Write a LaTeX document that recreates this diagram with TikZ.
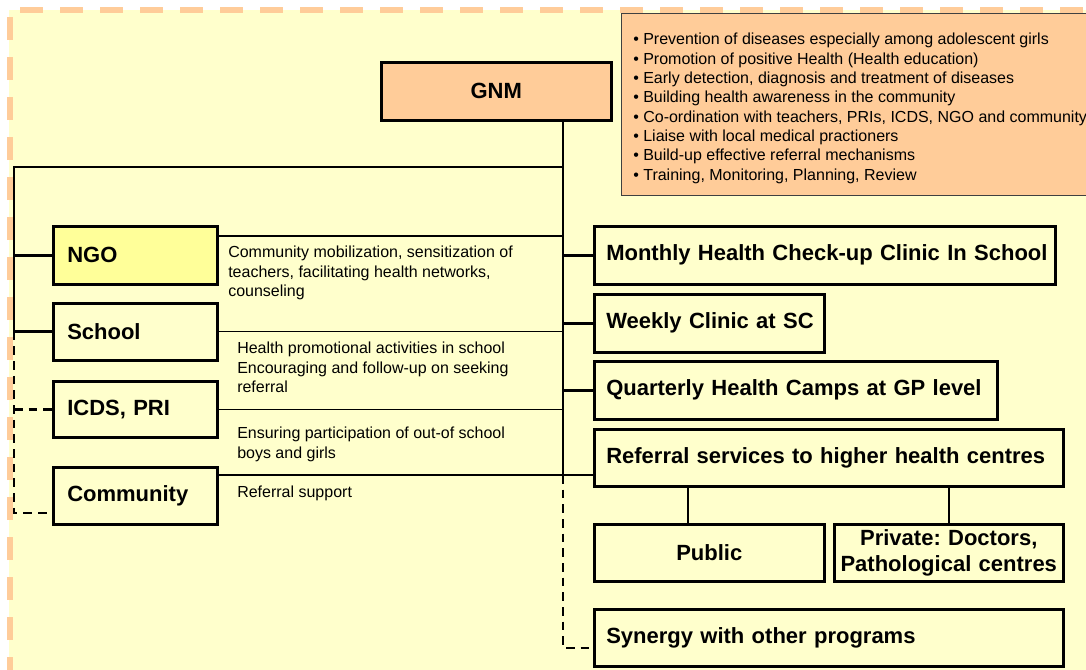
\documentclass[tikz,border=0pt]{standalone}
\usepackage{fontspec}
\setmainfont{Liberation Sans}
\frenchspacing
\definecolor{bgy}{HTML}{FFFFCC}
\definecolor{peach}{HTML}{FFCC99}
\definecolor{ngoy}{HTML}{FFFF99}
\definecolor{dashor}{HTML}{FFCC99}
\begin{document}
\begin{tikzpicture}[x=0.75pt,y=-0.75pt,
  thickline/.style={line width=1.9pt},
  thinline/.style={line width=0.9pt},
  dashline/.style={line width=1.9pt, dash pattern=on 6.5pt off 4.5pt},
  boxbase/.style={draw=black, line width=1.9pt, fill=bgy, inner ysep=0pt, anchor=north west,
    font=\fontsize{16.5}{19.5}\selectfont\bfseries},
  lbox/.style={boxbase, text width=102pt, inner xsep=10.5pt, align=left},
  rbox/.style={boxbase, inner xsep=9pt, align=left},
  lab/.style={anchor=north west, inner sep=0pt, align=left, font=\fontsize{12}{14.6}\selectfont},
]
\useasboundingbox (0,0) rectangle (1086,670);
% background and dashed frame
\fill[bgy] (9,10) rectangle (1090,675);
\draw[dashor, line width=4.3pt, dash pattern=on 17.25pt off 12.75pt] (20,10) -- (1090,10);
\draw[dashor, line width=4.3pt, dash pattern=on 17.25pt off 12.75pt] (10,17) -- (10,675);

% task box
\node[draw=black!75, line width=0.8pt, fill=peach, anchor=north west, inner sep=0pt,
      minimum width=360pt, minimum height=136.5pt] (taskbox) at (621,13) {};
\node[anchor=north west, inner sep=0pt, align=left, font=\fontsize{12}{14.5}\selectfont] (tasks) at (633,33)
 {• Prevention of diseases especially among adolescent girls\\
  • Promotion of positive Health (Health education)\\
  • Early detection, diagnosis and treatment of diseases\\
  • Building health awareness in the community\\
  • Co-ordination with teachers, PRIs, ICDS, NGO and community\\
  • Liaise with local medical practioners\\
  • Build-up effective referral mechanisms\\
  • Training, Monitoring, Planning, Review};

% GNM
\node[boxbase, fill=peach, text width=154.5pt, inner xsep=9pt, minimum height=43.5pt, align=center] (gnm) at (380,61) {GNM};

% left boxes
\node[lbox, fill=ngoy, minimum height=43.5pt] (ngo) at (52,225) {NGO};
\node[lbox, minimum height=42.75pt] (school) at (52,302) {School};
\node[lbox, minimum height=42pt] (icds) at (52,380) {ICDS, PRI};
\node[lbox, minimum height=42.75pt] (community) at (52,466) {Community};

% right boxes
\node[rbox, text width=327.75pt, minimum height=43.5pt] (monthly) at (593,225) {\mbox{Monthly Health Check-up Clinic In School}};
\node[rbox, text width=154.5pt, minimum height=43.5pt] (weekly) at (593,293) {\mbox{Weekly Clinic at SC}};
\node[rbox, text width=284.25pt, minimum height=43.5pt] (quarterly) at (593,360) {\mbox{Quarterly Health Camps at GP level}};
\node[rbox, text width=333.75pt, minimum height=42.75pt] (referral) at (593,428) {\mbox{Referral services to higher health centres}};
\node[boxbase, text width=154.5pt, inner xsep=9pt, minimum height=42.75pt, align=center] (public) at (593,523) {Public};
\node[boxbase, text width=165.75pt, inner xsep=3pt, minimum height=42.75pt, align=center,
      font=\fontsize{16.5}{20}\selectfont\bfseries] (private) at (833,523) {Private: Doctors,\\Pathological centres};
\node[rbox, text width=333.75pt, minimum height=42.75pt] (synergy) at (593,608) {\mbox{Synergy with other programs}};

% labels
\node[lab] (l1) at (228,246) {Community mobilization, sensitization of\\teachers, facilitating health networks,\\counseling};
\node[lab] (l2) at (237,342) {Health promotional activities in school\\Encouraging and follow-up on seeking\\referral};
\node[lab] (l3) at (237,427) {Ensuring participation of out-of school\\boys and girls};
\node[lab] (l4) at (237,486) {Referral support};

% junctions
\coordinate (jt) at (563,167);
\coordinate (jl) at (14,167);
\coordinate (jr) at (563,475);
\coordinate (js) at (563,648);
\coordinate (jc) at (14,513);
\coordinate (ngoln) at (216,236);
\coordinate (pubx) at (688,500);

% connectors
\draw[thickline] (gnm.south -| jt) -- (jr);
\draw[thickline] (jt) -- (jl) -- (jl |- school.west);
\draw[thickline] (jl |- ngo.west) -- (ngo.west);
\draw[thickline] (jl |- school.west) -- (school.west);
\draw[dashline] (jl |- school.west) -- (jc) -- (community.west |- jc);
\draw[dashline] (jl |- icds.west) -- (icds.west);
\draw[thinline] (ngoln) -- (ngoln -| jt);
\draw[thinline] (school.east) -- (school.east -| jt);
\draw[thinline] (icds.east) -- (icds.east -| jt);
\draw[thinline] (community.east |- jr) -- (jr);
\draw[thickline] (monthly.west -| jt) -- (monthly.west);
\draw[thickline] (weekly.west -| jt) -- (weekly.west);
\draw[thickline] (quarterly.west -| jt) -- (quarterly.west);
\draw[thickline] (jr) -- (referral.west |- jr);
\draw[dashline] (jr) -- (js) -- (synergy.west |- js);
\draw[thickline] (referral.south -| pubx) -- (public.north -| pubx);
\draw[thickline] (referral.south -| private.north) -- (private.north);
\end{tikzpicture}
\end{document}
